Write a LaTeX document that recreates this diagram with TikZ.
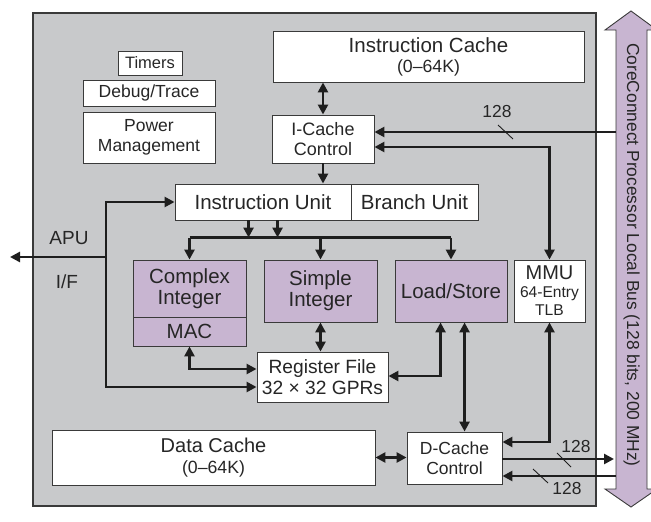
\documentclass[tikz,border=0pt]{standalone}
\usepackage{fontspec}
\setmainfont{Liberation Sans}
\usetikzlibrary{arrows.meta,calc}
\definecolor{chipgray}{HTML}{C8C9CB}
\definecolor{unitpurple}{HTML}{C8B5D1}
\definecolor{edge}{HTML}{3A3A3A}
\definecolor{wire}{HTML}{1E1E1E}
\definecolor{ink}{HTML}{262626}
\newcommand{\fs}[1]{\fontsize{#1}{#1}\selectfont}
\begin{document}
\begin{tikzpicture}[x=1pt,y=-1pt,
  every node/.style={text=ink},
  box/.style={draw=edge,line width=0.9pt,fill=white,inner sep=0pt,align=center,
    font=\fontsize{20.5}{21}\selectfont},
  ctl/.style={box,font=\fontsize{18}{20}\selectfont},
  small/.style={box,font=\fontsize{17.5}{20}\selectfont},
  unit/.style={box,fill=unitpurple},
  wirestyle/.style={draw=wire,line width=2.8pt},
  arr/.style={wirestyle,-{Triangle[length=10pt,width=10pt]}},
  dbl/.style={wirestyle,{Triangle[length=10pt,width=10pt]}-{Triangle[length=10pt,width=10pt]}},
  tick/.style={draw=wire,line width=0.9pt},
  lbl/.style={inner sep=0pt,font=\fontsize{17.4}{19}\selectfont}]
\useasboundingbox (0,0) rectangle (651,522);

% processor core outline
\path[fill=chipgray,draw=edge,line width=1.2pt] (33,13) rectangle (596,506);

% processor local bus (double-headed wide arrow)
\path[fill=unitpurple,draw=edge,line width=0.9pt]
  (631,11) -- (657,30) -- (647,30) -- (647,489) -- (657,489) -- (631,507)
  -- (605,489) -- (616,489) -- (616,30) -- (605,30) -- cycle;
\node[lbl,rotate=-90] (bustext) at (631.5,255)
  {CoreConnect Processor Local Bus (128 bits, 200 MHz)};

% blocks
\node[box,minimum width=311,minimum height=51] (icache) at (428.5,56.5)
  {Instruction Cache\\[-1pt]{\fs{17.7}(0–64K)}};
\node[small,minimum width=64,minimum height=24,font=\fs{16.5}] (timers) at (150,63) {Timers};
\node[small,minimum width=132,minimum height=26] (debug) at (149,93) {Debug/Trace};
\node[small,minimum width=132,minimum height=51] (power) at (149,137.5) {Power\\Management};
\node[ctl,minimum width=102,minimum height=48] (icc) at (323,139) {I-Cache\\Control};
\node[box,minimum width=176,minimum height=36] (iu) at (263,202) {Instruction Unit};
\node[box,minimum width=127,minimum height=36] (bu) at (414.5,202) {Branch Unit};
\node[unit,minimum width=113,minimum height=57] (cplx) at (189.5,288.5) {Complex\\Integer};
\node[unit,minimum width=113,minimum height=29] (mac) at (189.5,331.5) {MAC};
\node[unit,minimum width=113,minimum height=62] (simp) at (320.5,291) {Simple\\Integer};
\node[unit,minimum width=112,minimum height=62] (ls) at (451,291) {Load/Store};
\node[box,minimum width=71,minimum height=62,font=\fontsize{20}{18}\selectfont] (mmu) at (549.5,291)
  {MMU\\{\fs{15.6}64-Entry}\\{\fs{15.6}TLB}};
\node[box,minimum width=131,minimum height=50,font=\fontsize{19.2}{21}\selectfont] (rf) at (322.5,377)
  {Register File\\32 × 32 GPRs};
\node[box,minimum width=323,minimum height=55,font=\fontsize{20}{21}\selectfont] (dc) at (213.5,457.5)
  {Data Cache\\{\fs{17.7}(0–64K)}};
\node[ctl,minimum width=95,minimum height=52,font=\fontsize{17.5}{20}\selectfont] (dcc) at (454.5,458) {D-Cache\\Control};

% bus attachment points and free ends
\coordinate (ibus) at (616,132);
\coordinate (obus) at (614,459);
\coordinate (dbus) at (616,476);
\coordinate (apuj) at (106,257);
\coordinate (apu) at (10,257);
\coordinate (lsd) at ($(ls.south west)+(70,0)$);
\coordinate (lsr) at ($(ls.south west)+(46,0)$);
\coordinate (barl) at ($(cplx.north)+(0,-22)$);
\coordinate (barr) at (barl -| ls.north);
\coordinate (iua) at ($(iu.south west)+(74,0)$);
\coordinate (iub) at ($(iu.south west)+(103,0)$);

% instruction side
\draw[dbl] (icc.north) -- (icc.north |- icache.south);
\draw[arr] (icc.south) -- (icc.south |- iu.north);
\draw[arr] (ibus) -- (ibus -| icc.east);
\draw[dbl] (mmu.north) |- ($(icc.east)+(0,8)$);

% dispatch to execution units
\draw[wirestyle] (barl) -- (barr);
\draw[arr] (iua) -- (iua |- barl);
\draw[arr] (iub) -- (iub |- barl);
\draw[arr] (barl) -- (cplx.north);
\draw[arr] (barl -| simp.north) -- (simp.north);
\draw[arr] (barr) -- (ls.north);

% register file traffic
\draw[dbl] (simp.south) -- (simp.south |- rf.north);
\draw[dbl] (mac.south) |- ($(rf.west)+(0,-8)$);
\draw[dbl] (iu.west) -| (apuj) |- ($(rf.west)+(0,10)$);
\draw[arr] (apuj) -- (apu);
\draw[dbl] (lsr) |- ($(rf.east)+(0,-1)$);

% data side
\draw[dbl] (lsd) -- (lsd |- dcc.north);
\draw[dbl] (mmu.south) |- ($(dcc.east)+(0,-16)$);
\draw[dbl] (dc.east) -- (dc.east -| dcc.west);
\draw[arr] (dcc.east |- obus) -- (obus);
\draw[arr] (dbus) -- (dbus -| dcc.east);

% bus width marks
\draw[tick] (498,125) -- (513,139);
\node[lbl] (w1) at (497,112) {128};
\draw[tick] (557,453) -- (571,467);
\node[lbl] (w2) at (576,447) {128};
\draw[tick] (533,469) -- (548,483);
\node[lbl] (w3) at (567,489) {128};

% APU interface label
\node[lbl,font=\fs{19}] (apulbl) at (69,238) {APU};
\node[lbl,font=\fs{19}] (iflbl) at (67,282) {I/F};
\end{tikzpicture}
\end{document}
